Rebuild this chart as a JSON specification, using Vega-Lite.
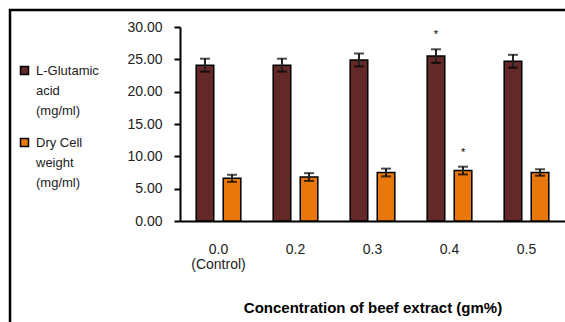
{
  "$schema": "https://vega.github.io/schema/vega-lite/v6.json",
  "width": 565,
  "height": 322,
  "autosize": {"type": "none"},
  "padding": {"left": 10, "top": 10, "right": 0, "bottom": 0},
  "config": {
    "font": "Liberation Sans",
    "view": {"stroke": "black", "strokeWidth": 2.5},
    "axis": {"grid": false},
    "style": {"guide-label": {"lineHeight": 20}}
  },
  "data": {
    "values": [
      {"conc": "0.0", "series": "L-Glutamic acid (mg/ml)", "value": 24.1, "err": 1.0, "sig": ""},
      {"conc": "0.2", "series": "L-Glutamic acid (mg/ml)", "value": 24.1, "err": 1.0, "sig": ""},
      {"conc": "0.3", "series": "L-Glutamic acid (mg/ml)", "value": 24.9, "err": 1.0, "sig": ""},
      {"conc": "0.4", "series": "L-Glutamic acid (mg/ml)", "value": 25.5, "err": 1.05, "sig": "*"},
      {"conc": "0.5", "series": "L-Glutamic acid (mg/ml)", "value": 24.7, "err": 1.0, "sig": ""},
      {"conc": "0.0", "series": "Dry Cell weight (mg/ml)", "value": 6.6, "err": 0.55, "sig": ""},
      {"conc": "0.2", "series": "Dry Cell weight (mg/ml)", "value": 6.8, "err": 0.6, "sig": ""},
      {"conc": "0.3", "series": "Dry Cell weight (mg/ml)", "value": 7.5, "err": 0.6, "sig": ""},
      {"conc": "0.4", "series": "Dry Cell weight (mg/ml)", "value": 7.8, "err": 0.6, "sig": "*"},
      {"conc": "0.5", "series": "Dry Cell weight (mg/ml)", "value": 7.5, "err": 0.5, "sig": ""}
    ]
  },
  "transform": [
    {"calculate": "datum.value - datum.err", "as": "lo"},
    {"calculate": "datum.value + datum.err", "as": "hi"}
  ],
  "encoding": {
    "x": {
      "field": "conc",
      "type": "nominal",
      "sort": null,
      "scale": {"range": [170, 555], "paddingInner": 0.42, "paddingOuter": 0.21},
      "axis": {
        "offset": -111,
        "labelAngle": 0,
        "domainColor": "black",
        "domainWidth": 2,
        "ticks": false,
        "labelPadding": 21,
        "labelFontSize": 14,
        "labelColor": "#222",
        "labelLineHeight": 15,
        "labelBaseline": "top",
        "labelExpr": "datum.value == '0.0' ? ['0.0', '(Control)'] : datum.label",
        "title": "Concentration of beef extract (gm%)",
        "titleFontSize": 15,
        "titleFontWeight": "bold",
        "titleColor": "black",
        "titlePadding": 29
      }
    },
    "xOffset": {
      "field": "series",
      "type": "nominal",
      "sort": ["L-Glutamic acid (mg/ml)", "Dry Cell weight (mg/ml)"],
      "scale": {"paddingInner": 0.35, "paddingOuter": 0}
    }
  },
  "layer": [
    {
      "mark": {"type": "bar", "stroke": "black", "strokeWidth": 1.5},
      "encoding": {
        "y": {
          "field": "value",
          "type": "quantitative",
          "scale": {"domain": [0, 30], "range": [211, 17], "nice": false},
          "axis": {
            "offset": -170,
            "values": [0, 5, 10, 15, 20, 25, 30],
            "format": ".2f",
            "domainColor": "black",
            "domainWidth": 2,
            "tickColor": "black",
            "tickWidth": 2,
            "tickSize": 6,
            "labelPadding": 12,
            "labelFontSize": 14,
            "labelColor": "#222",
            "title": null
          }
        },
        "color": {
          "field": "series",
          "type": "nominal",
          "sort": ["L-Glutamic acid (mg/ml)", "Dry Cell weight (mg/ml)"],
          "scale": {"range": ["#632828", "#e8780c"]},
          "legend": {
            "title": null,
            "orient": "none",
            "legendX": 8,
            "legendY": 54,
            "padding": 0,
            "symbolType": "square",
            "symbolSize": 64,
            "symbolStrokeColor": "black",
            "symbolStrokeWidth": 1.5,
            "labelFontSize": 13,
            "labelColor": "#222",
            "labelOffset": 5,
            "labelBaseline": "alphabetic",
            "rowPadding": 17,
            "labelExpr": "datum.value == 'L-Glutamic acid (mg/ml)' ? ['L-Glutamic', 'acid', '(mg/ml)'] : ['Dry Cell', 'weight', '(mg/ml)']",
            "encode": {
              "labels": {"update": {"dy": {"value": 4}}}
            }
          }
        }
      }
    },
    {
      "mark": {"type": "rule", "color": "#222", "strokeWidth": 2},
      "encoding": {
        "y": {"field": "lo", "type": "quantitative"},
        "y2": {"field": "hi"}
      }
    },
    {
      "mark": {"type": "tick", "color": "black", "thickness": 2, "size": 10},
      "encoding": {"y": {"field": "lo", "type": "quantitative"}}
    },
    {
      "mark": {"type": "tick", "color": "black", "thickness": 2, "size": 10},
      "encoding": {"y": {"field": "hi", "type": "quantitative"}}
    },
    {
      "mark": {"type": "text", "fontSize": 11, "baseline": "bottom", "dy": -9, "color": "black"},
      "encoding": {
        "y": {"field": "hi", "type": "quantitative"},
        "text": {"field": "sig"}
      }
    }
  ]
}
